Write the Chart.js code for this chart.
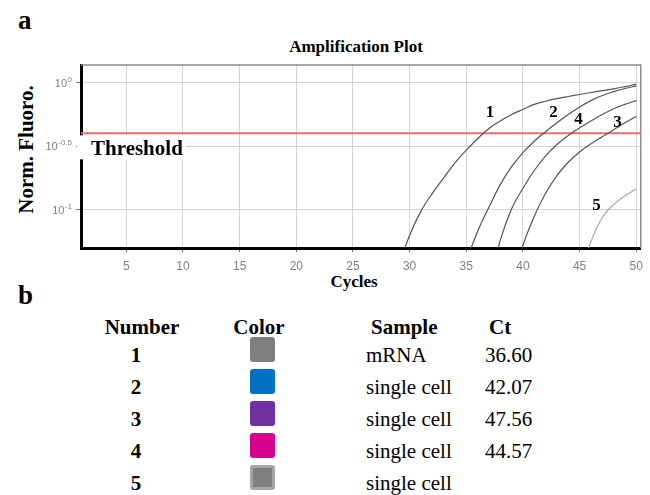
<!DOCTYPE html>
<html lang="en">
<head>
<meta charset="UTF-8">
<title>Amplification Plot</title>
<script src="https://cdn.jsdelivr.net/npm/chart.js@4.4.1/dist/chart.umd.min.js"></script>
<style>
    html, body { margin: 0; padding: 0; background: #fff; }
    body { width: 650px; height: 495px; position: relative; overflow: hidden;
           font-family: "Liberation Serif", "Times New Roman", serif; color: #000; }
    .txt { position: absolute; white-space: nowrap; line-height: 1; }
    .negrito { font-weight: bold; }
    #caixaGrafico { position: absolute; left: 0; top: 0; width: 650px; height: 300px; }
    .quadrado { position: absolute; width: 25px; height: 25px; border-radius: 3px; box-sizing: border-box; }
</style>
</head>
<body>
<div class="txt negrito" style="left:18px;top:7px;font-size:27px">a</div>
<div class="txt negrito" style="left:256px;width:200px;top:38px;font-size:17px;text-align:center">Amplification Plot</div>
<div class="txt negrito" style="left:-74px;width:200px;top:139px;font-size:21px;text-align:center;transform:rotate(-90deg)">Norm. Fluoro.</div>
<div class="txt negrito" style="left:304px;width:100px;top:273px;font-size:17px;text-align:center">Cycles</div>
<div class="txt negrito" style="left:18px;top:282px;font-size:27px">b</div>

<div id="caixaGrafico"><canvas id="grafico" width="650" height="300"></canvas></div>
<div id="tabela"></div>

<script>
// ciclos (eixo x)
const ciclos = [29, 30, 31, 32, 33, 34, 35, 36, 37, 38, 39, 40, 41, 42, 43, 44, 45, 46, 47, 48, 49, 50];

// fluorescencia normalizada de cada curva
const curva1 = [0.0355, 0.0631, 0.0977, 0.135, 0.178, 0.234, 0.295, 0.363, 0.437, 0.501, 0.562,
                0.617, 0.676, 0.716, 0.750, 0.780, 0.809, 0.838, 0.867, 0.895, 0.933, 0.977];
const curva2 = [null, null, null, null, null, null, 0.0398, 0.0676, 0.105, 0.158, 0.219,
                0.282, 0.347, 0.412, 0.484, 0.562, 0.646, 0.724, 0.794, 0.851, 0.902, 0.946];
const curva3 = [null, null, null, null, null, null, null, null, null, null, 0.0251,
                0.0525, 0.0891, 0.135, 0.186, 0.237, 0.285, 0.331, 0.376, 0.427, 0.484, 0.543];
const curva4 = [null, null, null, null, null, null, null, null, 0.0251, 0.0575, 0.102,
                0.148, 0.204, 0.266, 0.327, 0.385, 0.442, 0.501, 0.562, 0.624, 0.676, 0.724];
const curva5 = [null, null, null, null, null, null, null, null, null, null, null,
                null, null, null, null, null, 0.0316, 0.0562, 0.0871, 0.110, 0.129, 0.146];

const threshold = 0.4;

const ticksCiclos = [5, 10, 15, 20, 25, 30, 35, 40, 45, 50];
const ticksFluoro = [0.1, 0.3162, 1];
const expoentesFluoro = ["-1", "-0.5", "0"];

// rotulos das curvas: [ciclo, fluorescencia]
const rotulosCurvas = [
    { texto: "1", ponto: [37.1, 0.602] },
    { texto: "2", ponto: [42.7, 0.602] },
    { texto: "4", ponto: [44.9, 0.525] },
    { texto: "3", ponto: [48.35, 0.502] },
    { texto: "5", ponto: [46.5, 0.111] }
];

// tabela b
const numeros = ["1", "2", "3", "4", "5"];
const coresAmostra = ["#7f7f7f", "#0070c0", "#7030a0", "#d6008f", "#7f7f7f"];
const bordasAmostra = ["", "", "", "", "#a6a6a6"];
const amostras = ["mRNA", "single cell", "single cell", "single cell", "single cell"];
const valoresCt = ["36.60", "42.07", "47.56", "44.57", ""];

function montarSerie(valores) {
    const pontos = [];
    valores.forEach((v, i) => {
        if (v !== null) pontos.push({ x: ciclos[i], y: v });
    });
    return pontos;
}

function criarTexto(texto, estilo, negrito) {
    const div = document.createElement("div");
    div.className = negrito ? "txt negrito" : "txt";
    div.style.cssText = estilo;
    div.textContent = texto;
    tabela.appendChild(div);
}

function montarTabela() {
    criarTexto("Number", "left:92px;width:100px;top:317px;font-size:21px;text-align:center", true);
    criarTexto("Color", "left:209px;width:100px;top:317px;font-size:21px;text-align:center", true);
    criarTexto("Sample", "left:371px;top:317px;font-size:21px", true);
    criarTexto("Ct", "left:489px;top:317px;font-size:21px", true);

    numeros.forEach((n, i) => {
        const topo = 345 + i * 32;
        criarTexto(n, `left:116px;width:40px;top:${topo}px;font-size:21px;text-align:center`, true);
        criarTexto(amostras[i], `left:366px;top:${topo}px;font-size:21px`, false);
        criarTexto(valoresCt[i], `left:485px;top:${topo}px;font-size:21px`, false);

        const q = document.createElement("div");
        q.className = "quadrado";
        q.style.left = "250px";
        q.style.top = (337 + i * 32) + "px";
        q.style.background = coresAmostra[i];
        if (bordasAmostra[i]) q.style.border = "3px solid " + bordasAmostra[i];
        tabela.appendChild(q);
    });
}

const desenhoExtra = {
    id: "desenhoExtra",
    beforeDatasetsDraw(chart) {
        const { ctx, chartArea } = chart;
        ctx.save();
        ctx.strokeStyle = "#8c8c8c";
        ctx.lineWidth = 1.5;
        ctx.beginPath();
        ctx.moveTo(chartArea.left, chartArea.top);
        ctx.lineTo(chartArea.right, chartArea.top);
        ctx.lineTo(chartArea.right, chartArea.bottom);
        ctx.stroke();
        ctx.restore();
    },
    afterDraw(chart) {
        const { ctx, chartArea } = chart;
        const x = chart.scales.x;
        const y = chart.scales.y;
        ctx.save();

        // rotulos 10^n do eixo y
        ctx.fillStyle = "#808080";
        ctx.textAlign = "right";
        ctx.textBaseline = "alphabetic";
        ticksFluoro.forEach((v, i) => {
            const py = y.getPixelForValue(v);
            ctx.font = '8px "Liberation Sans", Arial, sans-serif';
            const larguraExp = ctx.measureText(expoentesFluoro[i]).width;
            ctx.fillText(expoentesFluoro[i], 72, py - 1);
            ctx.font = '11px "Liberation Sans", Arial, sans-serif';
            ctx.fillText("10", 72 - larguraExp - 0.5, py + 4);
        });

        // Threshold
        const pyThr = y.getPixelForValue(threshold);
        ctx.font = 'bold 21px "Liberation Serif", "Times New Roman", serif';
        const larguraT = ctx.measureText("Threshold").width;
        const xT = chartArea.left + 10;
        ctx.fillStyle = "#fff";
        ctx.fillRect(chartArea.left - 4, pyThr + 2, xT + larguraT + 3 - (chartArea.left - 4), 24);
        ctx.fillStyle = "#000";
        ctx.textAlign = "left";
        ctx.fillText("Threshold", xT, pyThr + 22);

        // numeros das curvas
        ctx.font = 'bold 17px "Liberation Serif", "Times New Roman", serif';
        ctx.textAlign = "center";
        rotulosCurvas.forEach(r => {
            const px = x.getPixelForValue(r.ponto[0]);
            const py = y.getPixelForValue(r.ponto[1]);
            ctx.fillText(r.texto, px, py + 6);
        });
        ctx.restore();
    }
};

function estiloCurva(dados, cor) {
    return {
        data: montarSerie(dados),
        borderColor: cor,
        borderWidth: 1.2,
        pointRadius: 0,
        fill: false,
        tension: 0.4
    };
}

document.addEventListener("DOMContentLoaded", () => {
    montarTabela();

    new Chart(document.getElementById("grafico"), {
        type: "line",
        data: {
            datasets: [
                estiloCurva(curva1, "#555555"),
                estiloCurva(curva2, "#555555"),
                estiloCurva(curva3, "#555555"),
                estiloCurva(curva4, "#555555"),
                estiloCurva(curva5, "#a8a8a8"),
                {
                    data: [{ x: 1, y: threshold }, { x: 50.4, y: threshold }],
                    borderColor: "#f26b6b",
                    borderWidth: 2,
                    pointRadius: 0,
                    fill: false
                }
            ]
        },
        options: {
            responsive: false,
            animation: false,
            layout: { padding: { top: 65, right: 8, bottom: 0, left: 0 } },
            plugins: {
                legend: { display: false },
                tooltip: { enabled: false },
                title: { display: false }
            },
            scales: {
                x: {
                    type: "linear",
                    min: 1,
                    max: 50.4,
                    afterBuildTicks: (scale) => { scale.ticks = ticksCiclos.map(v => ({ value: v })); },
                    afterFit: (scale) => { scale.height = 52; },
                    ticks: {
                        color: "#808080",
                        font: { family: '"Liberation Sans", Arial, sans-serif', size: 12 },
                        padding: 7,
                        maxRotation: 0
                    },
                    grid: { color: "#d4d4d4", lineWidth: 1, tickLength: 4, tickColor: "#777" },
                    border: { display: true, color: "#000", width: 3 }
                },
                y: {
                    type: "logarithmic",
                    min: 0.0501,
                    max: 1.38,
                    afterBuildTicks: (scale) => { scale.ticks = ticksFluoro.map(v => ({ value: v })); },
                    afterFit: (scale) => { scale.width = 81; },
                    ticks: { callback: () => "" },
                    grid: { color: "#d4d4d4", lineWidth: 1, tickLength: 5, tickColor: "#777" },
                    border: { display: true, color: "#000", width: 3 }
                }
            }
        },
        plugins: [desenhoExtra]
    });
});
</script>
</body>
</html>
